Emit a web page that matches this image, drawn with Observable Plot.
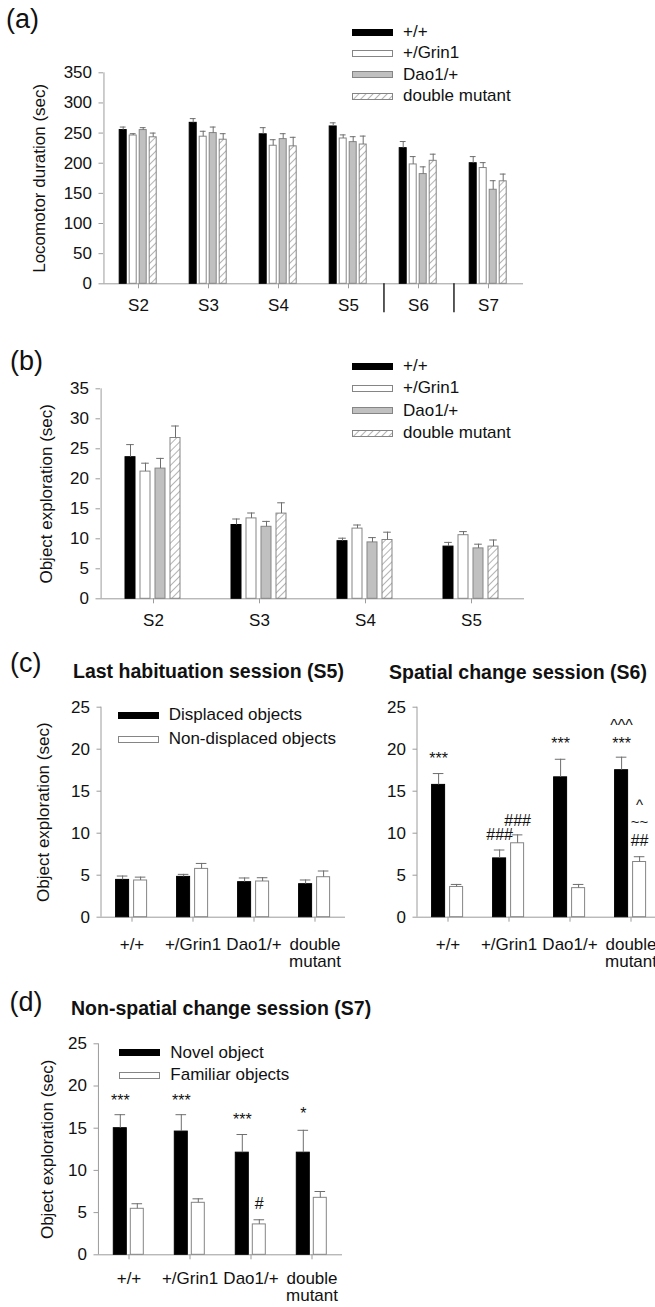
<!DOCTYPE html>
<html>
<head>
<meta charset="utf-8">
<script src="https://cdn.jsdelivr.net/npm/d3@7"></script>
<script src="https://cdn.jsdelivr.net/npm/@observablehq/plot@0.6"></script>
<style>
html, body { margin: 0; padding: 0; background: #fff; }
#fig { position: relative; width: 655px; height: 1307px; overflow: hidden;
  font-family: "Liberation Sans", Arial, Helvetica, sans-serif; color: #111; }
#fig svg.panel { position: absolute; overflow: visible; }
.plabel { position: absolute; font-size: 27px; line-height: 27px; white-space: nowrap; }
.title { position: absolute; font-size: 19.5px; font-weight: bold; line-height: 19.5px; white-space: nowrap; }
.legrow { position: absolute; height: 20px; line-height: 20px; font-size: 17px; display: flex; align-items: center; white-space: nowrap; }
.legrow svg { margin-right: 10px; }
</style>
</head>
<body>
<div id="fig">
  <svg width="0" height="0" style="position:absolute">
    <defs>
      <pattern id="hatch" patternUnits="userSpaceOnUse" width="5" height="5" patternTransform="rotate(45)">
        <rect width="5" height="5" fill="#fff"></rect>
        <line x1="0" y1="0" x2="0" y2="5" stroke="#8c8c8c" stroke-width="1.3"></line>
      </pattern>
    </defs>
  </svg>
</div>
<script>
// ---------------- data ----------------
// (a) locomotor duration (sec) by session
const sessionsA = ["S2", "S3", "S4", "S5", "S6", "S7"];
const genotypes = ["+/+", "+/Grin1", "Dao1/+", "double mutant"];
const locoWT      = [255, 267, 248, 261, 225, 200];
const locoWTErr   = [5, 7, 11, 6, 11, 11];
const locoGrin    = [246, 244, 229, 241, 198, 192];
const locoGrinErr = [3, 9, 10, 6, 13, 9];
const locoDao     = [255, 250, 240, 235, 182, 156];
const locoDaoErr  = [4, 10, 9, 9, 12, 15];
const locoDbl     = [243, 239, 228, 231, 204, 170];
const locoDblErr  = [7, 10, 15, 14, 11, 12];
const locoTicks   = [0, 50, 100, 150, 200, 250, 300, 350];

// (b) object exploration (sec) by habituation session
const sessionsB  = ["S2", "S3", "S4", "S5"];
const explWT      = [23.6, 12.3, 9.6, 8.7];
const explWTErr   = [2.1, 1.0, 0.5, 0.7];
const explGrin    = [21.2, 13.4, 11.7, 10.6];
const explGrinErr = [1.4, 0.9, 0.6, 0.6];
const explDao     = [21.7, 12.0, 9.4, 8.4];
const explDaoErr  = [1.7, 0.9, 0.8, 0.7];
const explDbl     = [26.8, 14.2, 9.8, 8.7];
const explDblErr  = [2.0, 1.8, 1.3, 1.1];
const explTicks   = [0, 5, 10, 15, 20, 25, 30, 35];

// (c) S5 and S6: displaced vs non-displaced objects
const objectsC = ["Displaced objects", "Non-displaced objects"];
const s5Disp      = [4.44, 4.8, 4.17, 3.93];
const s5DispErr   = [0.46, 0.3, 0.5, 0.5];
const s5NonDisp   = [4.37, 5.75, 4.25, 4.76];
const s5NonDispErr= [0.4, 0.65, 0.45, 0.74];
const s6Disp      = [15.75, 7.0, 16.65, 17.5];
const s6DispErr   = [1.35, 1.0, 2.15, 1.55];
const s6NonDisp   = [3.6, 8.8, 3.46, 6.57];
const s6NonDispErr= [0.3, 1.0, 0.44, 0.63];
const s6AnnotGroup  = ["+/+", "+/Grin1", "+/Grin1", "Dao1/+", "double mutant", "double mutant", "double mutant", "double mutant", "double mutant"];
const s6AnnotObject = [0, 0, 1, 0, 0, 0, 1, 1, 1];
const s6AnnotY      = [18.9, 9.8, 11.5, 20.6, 22.8, 20.6, 13.3, 11.3, 9.05];
const s6AnnotText   = ["***", "###", "###", "***", "^^^", "***", "^", "~~", "##"];

// (d) S7: novel vs familiar objects
const objectsD = ["Novel object", "Familiar objects"];
const s7Novel      = [15.0, 14.6, 12.1, 12.1];
const s7NovelErr   = [1.6, 2.0, 2.15, 2.65];
const s7Familiar   = [5.45, 6.16, 3.6, 6.75];
const s7FamiliarErr= [0.6, 0.47, 0.55, 0.75];
const s7AnnotGroup  = ["+/+", "+/Grin1", "Dao1/+", "double mutant", "Dao1/+"];
const s7AnnotObject = [0, 0, 0, 0, 1];
const s7AnnotY      = [18.2, 18.2, 16.0, 16.7, 6.04];
const s7AnnotText   = ["***", "***", "***", "*", "#"];
const ticks25 = [0, 5, 10, 15, 20, 25];

// ---------------- styles ----------------
const FONT = '"Liberation Sans", Arial, Helvetica, sans-serif';
const AXIS = "#9c9c9c", TXT = "#111", ERR = "#6e6e6e", EDGE = "#858585";
const fourFills   = ["#000", "#fff", "#c0c0c0", "url(#hatch)"];
const fourStrokes = ["#000", EDGE, EDGE, EDGE];
const twoFills    = ["#000", "#fff"];
const twoStrokes  = ["#000", EDGE];

const fig = document.getElementById("fig");

function groupedPanel(cfg) {
  const {groups, series, values, errs, yDomain, yTicks, yLabel, left, top, W, H,
         mL, mT, mB, mR, bw, step, tickPadding, labelOffset, annot = [], separators = [],
         sepDepth = 0, fills, strokes, tickFormat = d => d, lineHeight = 1} = cfg;
  const data = [];
  series.forEach((s, si) => groups.forEach((g, gi) =>
    data.push({g, s, v: values[si][gi], e: errs[si][gi]})));
  const fw = (W - mL - mR) / groups.length;
  const pi = 1 - bw / step;
  const po = (fw / step - series.length + pi) / 2;
  const edge = po * step + bw / 2;
  const capInset = bw > 10 ? 1.2 : 0.6;

  const marks = [];
  marks.push(Plot.ruleY([0], {stroke: AXIS, strokeWidth: 1}));
  marks.push(Plot.ruleX([{g: groups[0], s: series[0]}],
    {fx: "g", x: "s", y1: yDomain[0], y2: yDomain[1], dx: -edge, stroke: AXIS}));
  if (separators.length) {
    marks.push(Plot.ruleX(separators.map(g => ({g, s: series[0]})),
      {fx: "g", x: "s", y1: 0, y2: sepDepth, dx: -edge, stroke: "#000", strokeWidth: 1.3}));
  }
  series.forEach((s, si) => {
    marks.push(Plot.barY(data.filter(d => d.s === s),
      {fx: "g", x: "s", y1: 0, y2: "v", fill: fills[si], stroke: strokes[si], strokeWidth: 1}));
  });
  marks.push(Plot.ruleX(data, {fx: "g", x: "s", y1: "v", y2: d => d.v + d.e, stroke: ERR, strokeWidth: 1}));
  marks.push(Plot.tickY(data, {fx: "g", x: "s", y: d => d.v + d.e, stroke: ERR, strokeWidth: 1,
    insetLeft: capInset, insetRight: capInset}));
  if (annot.length) {
    marks.push(Plot.text(annot, {fx: "g", x: "s", y: "y", text: "t", fill: TXT,
      fontSize: d => (d.t === "^" || d.t === "~~") ? 15 : 16, lineAnchor: "middle"}));
  }
  marks.push(Plot.axisY({ticks: yTicks, tickSize: 4.5, tickPadding: 7, stroke: AXIS, fill: TXT,
    tickFormat: d => d, label: yLabel, labelAnchor: "center", labelArrow: "none", labelOffset,
    fontSize: 17}));
  marks.push(Plot.axisFx({anchor: "bottom", tickSize: 5, tickPadding, stroke: AXIS, fill: TXT,
    label: null, tickFormat, lineHeight, fontSize: 17}));

  const svg = Plot.plot({
    width: W, height: H,
    marginLeft: mL, marginRight: mR, marginTop: mT, marginBottom: mB,
    x: {domain: series, paddingInner: pi, paddingOuter: po, axis: null},
    fx: {domain: groups, paddingInner: 0, paddingOuter: 0, axis: null},
    y: {domain: yDomain, axis: null},
    style: {fontFamily: FONT, fontSize: "17px", color: TXT, background: "transparent", overflow: "visible"},
    marks
  });
  svg.classList.add("panel");
  svg.style.left = left + "px";
  svg.style.top = top + "px";
  fig.appendChild(svg);
}

function addText(cls, text, x, y) {
  const d = document.createElement("div");
  d.className = cls;
  d.textContent = text;
  d.style.left = x + "px";
  d.style.top = y + "px";
  fig.appendChild(d);
}

function addLegend(labels, fills, strokes, x, yCenter0, dy, swW = 40, swH = 6) {
  labels.forEach((lab, i) => {
    const row = document.createElement("div");
    row.className = "legrow";
    row.style.left = x + "px";
    row.style.top = (yCenter0 + i * dy - 10) + "px";
    const ns = "http://www.w3.org/2000/svg";
    const s = document.createElementNS(ns, "svg");
    s.setAttribute("width", swW + 1);
    s.setAttribute("height", swH + 1);
    const r = document.createElementNS(ns, "rect");
    r.setAttribute("x", 0.5); r.setAttribute("y", 0.5);
    r.setAttribute("width", swW); r.setAttribute("height", swH);
    r.setAttribute("fill", fills[i]); r.setAttribute("stroke", strokes[i]);
    s.appendChild(r);
    row.appendChild(s);
    const t = document.createElement("span");
    t.textContent = lab;
    row.appendChild(t);
    fig.appendChild(row);
  });
}

const twoLine = d => d === "double mutant" ? "double\nmutant" : d;

// (a)
groupedPanel({
  groups: sessionsA, series: genotypes,
  values: [locoWT, locoGrin, locoDao, locoDbl], errs: [locoWTErr, locoGrinErr, locoDaoErr, locoDblErr],
  yDomain: [0, 350], yTicks: locoTicks, yLabel: "Locomotor duration (sec)",
  left: 0, top: 0, W: 545, H: 330, mL: 100.8, mT: 72.3, mB: 46.7, mR: 19,
  bw: 8, step: 10.8, tickPadding: 10, labelOffset: 71,
  separators: ["S6", "S7"], sepDepth: -48,
  fills: fourFills, strokes: fourStrokes
});
addText("plabel", "(a)", 6, 6);
addLegend(genotypes, fourFills, fourStrokes, 352, 32, 21.4);

// (b)
groupedPanel({
  groups: sessionsB, series: genotypes,
  values: [explWT, explGrin, explDao, explDbl], errs: [explWTErr, explGrinErr, explDaoErr, explDblErr],
  yDomain: [0, 35], yTicks: explTicks, yLabel: "Object exploration (sec)",
  left: 0, top: 330, W: 545, H: 310, mL: 99, mT: 58.3, mB: 41.7, mR: 20,
  bw: 10.7, step: 15.9, tickPadding: 10, labelOffset: 61,
  fills: fourFills, strokes: fourStrokes
});
addText("plabel", "(b)", 10, 348);
addLegend(genotypes, fourFills, fourStrokes, 352, 366, 22.4);

// (c)
const annotS6 = s6AnnotText.map((t, i) => ({g: s6AnnotGroup[i], s: objectsC[s6AnnotObject[i]], y: s6AnnotY[i], t}));
groupedPanel({
  groups: genotypes, series: objectsC,
  values: [s5Disp, s5NonDisp], errs: [s5DispErr, s5NonDispErr],
  yDomain: [0, 25], yTicks: ticks25, yLabel: "Object exploration (sec)",
  left: 0, top: 640, W: 356, H: 340, mL: 100.4, mT: 66.7, mB: 63.3, mR: 10,
  bw: 13.4, step: 18.2, tickPadding: 15, labelOffset: 64.6, lineHeight: 1.03,
  fills: twoFills, strokes: twoStrokes, tickFormat: twoLine
});
groupedPanel({
  groups: genotypes, series: objectsC,
  values: [s6Disp, s6NonDisp], errs: [s6DispErr, s6NonDispErr],
  yDomain: [0, 25], yTicks: ticks25, yLabel: null,
  left: 316.3, top: 640, W: 356, H: 340, mL: 100.4, mT: 66.7, mB: 63.3, mR: 10,
  bw: 13.4, step: 18.2, tickPadding: 15, labelOffset: 64.6, lineHeight: 1.03,
  annot: annotS6,
  fills: twoFills, strokes: twoStrokes, tickFormat: twoLine
});
addText("plabel", "(c)", 10, 649.5);
addText("title", "Last habituation session (S5)", 73, 661.5);
addText("title", "Spatial change session (S6)", 389, 662.5);
addLegend(objectsC, twoFills, twoStrokes, 117.7, 715, 24);

// (d)
const annotS7 = s7AnnotText.map((t, i) => ({g: s7AnnotGroup[i], s: objectsD[s7AnnotObject[i]], y: s7AnnotY[i], t}));
groupedPanel({
  groups: genotypes, series: objectsD,
  values: [s7Novel, s7Familiar], errs: [s7NovelErr, s7FamiliarErr],
  yDomain: [0, 25], yTicks: ticks25, yLabel: "Object exploration (sec)",
  left: 0, top: 980, W: 356, H: 327, mL: 96.7, mT: 63.3, mB: 52.7, mR: 13.7,
  bw: 13.3, step: 17.7, tickPadding: 12.5, labelOffset: 57.7, lineHeight: 1.0,
  annot: annotS7,
  fills: twoFills, strokes: twoStrokes, tickFormat: twoLine
});
addText("plabel", "(d)", 9.5, 988.5);
addText("title", "Non-spatial change session (S7)", 71, 998.5);
addLegend(objectsD, twoFills, twoStrokes, 119.3, 1052.7, 22.6);
</script>
</body>
</html>
